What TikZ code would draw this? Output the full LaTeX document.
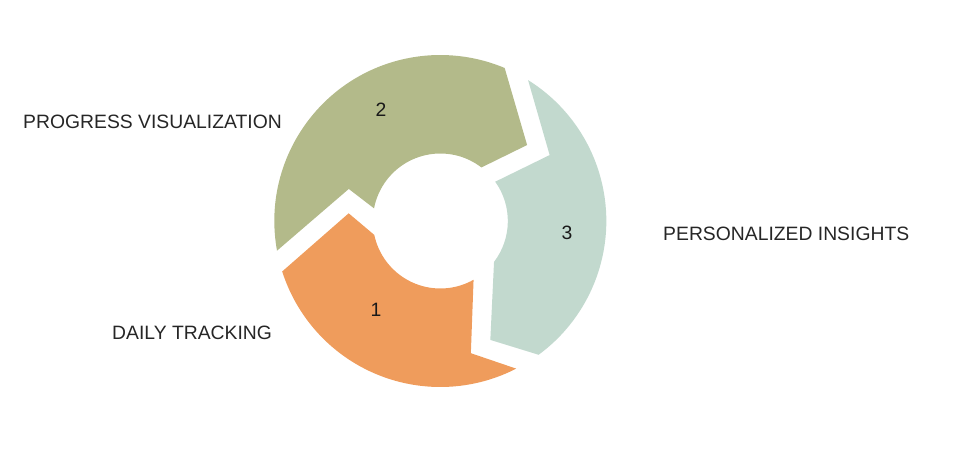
\documentclass[tikz,border=0pt]{standalone}
\usepackage{fontspec}
\setmainfont{Liberation Sans}
\usepackage{tikz}
\usetikzlibrary{calc}
\usetikzlibrary{positioning}
\usepackage{xcolor}
\definecolor{trackorange}{HTML}{EF9C5C}
\definecolor{progressgreen}{HTML}{B3BA8A}
\definecolor{insightteal}{HTML}{C2D9CE}

\begin{document}
\begin{tikzpicture}[
    % Cycle segment and text styles
    cycle_seg/.style={draw=none},
    step_label/.style={font=\fontsize{16.5}{19}\selectfont, text=black!85, anchor=west, inner sep=0pt},
    step_num/.style={font=\fontsize{16.5}{19}\selectfont, text=black!90, inner sep=0pt}
]
    \useasboundingbox (0,0) rectangle (28.59,14.1);
    \coordinate (hub) at (13.21,7.47);
    \def\outR{4.98}
    \def\inR{2.025}

    % --- 1. SEGMENT 2 (top left) ---
    \fill[cycle_seg, progressgreen, shift={(hub)}]
        (190.3:\outR) arc[start angle=190.3, end angle=67.2, radius=\outR cm]
        -- (41.2:3.46) -- (52.5:\inR)
        arc[start angle=52.5, end angle=169.2, radius=\inR cm]
        -- (160.7:2.91) -- cycle;

    % --- 2. SEGMENT 3 (right) ---
    \fill[cycle_seg, insightteal, shift={(hub)}]
        (58.1:\outR) arc[start angle=58.1, end angle=-53.7, radius=\outR cm]
        -- (-67.2:3.87) -- (-37.3:\inR)
        arc[start angle=-37.3, end angle=35.6, radius=\inR cm]
        -- (31.1:3.83) -- cycle;

    % --- 3. SEGMENT 1 (bottom left) ---
    \fill[cycle_seg, trackorange, shift={(hub)}]
        (297.2:\outR) arc[start angle=297.2, end angle=197.7, radius=\outR cm]
        -- (175.2:2.76) -- (191.9:\inR)
        arc[start angle=191.9, end angle=299.5, radius=\inR cm]
        -- (283:4.07) -- cycle;

    % --- 4. NUMBERS ---
    \node[step_num] (n1) at (11.28,4.80) {1};
    \node[step_num] (n2) at (11.43,10.80) {2};
    \node[step_num] (n3) at (17.01,7.11) {3};

    % --- 5. LABELS ---
    \node[step_label] (tracking) at (3.36,4.11) {DAILY TRACKING};
    \node[step_label] (progress) at (0.69,10.44) {PROGRESS VISUALIZATION};
    \node[step_label] (insights) at (19.89,7.08) {PERSONALIZED INSIGHTS};

\end{tikzpicture}
\end{document}
